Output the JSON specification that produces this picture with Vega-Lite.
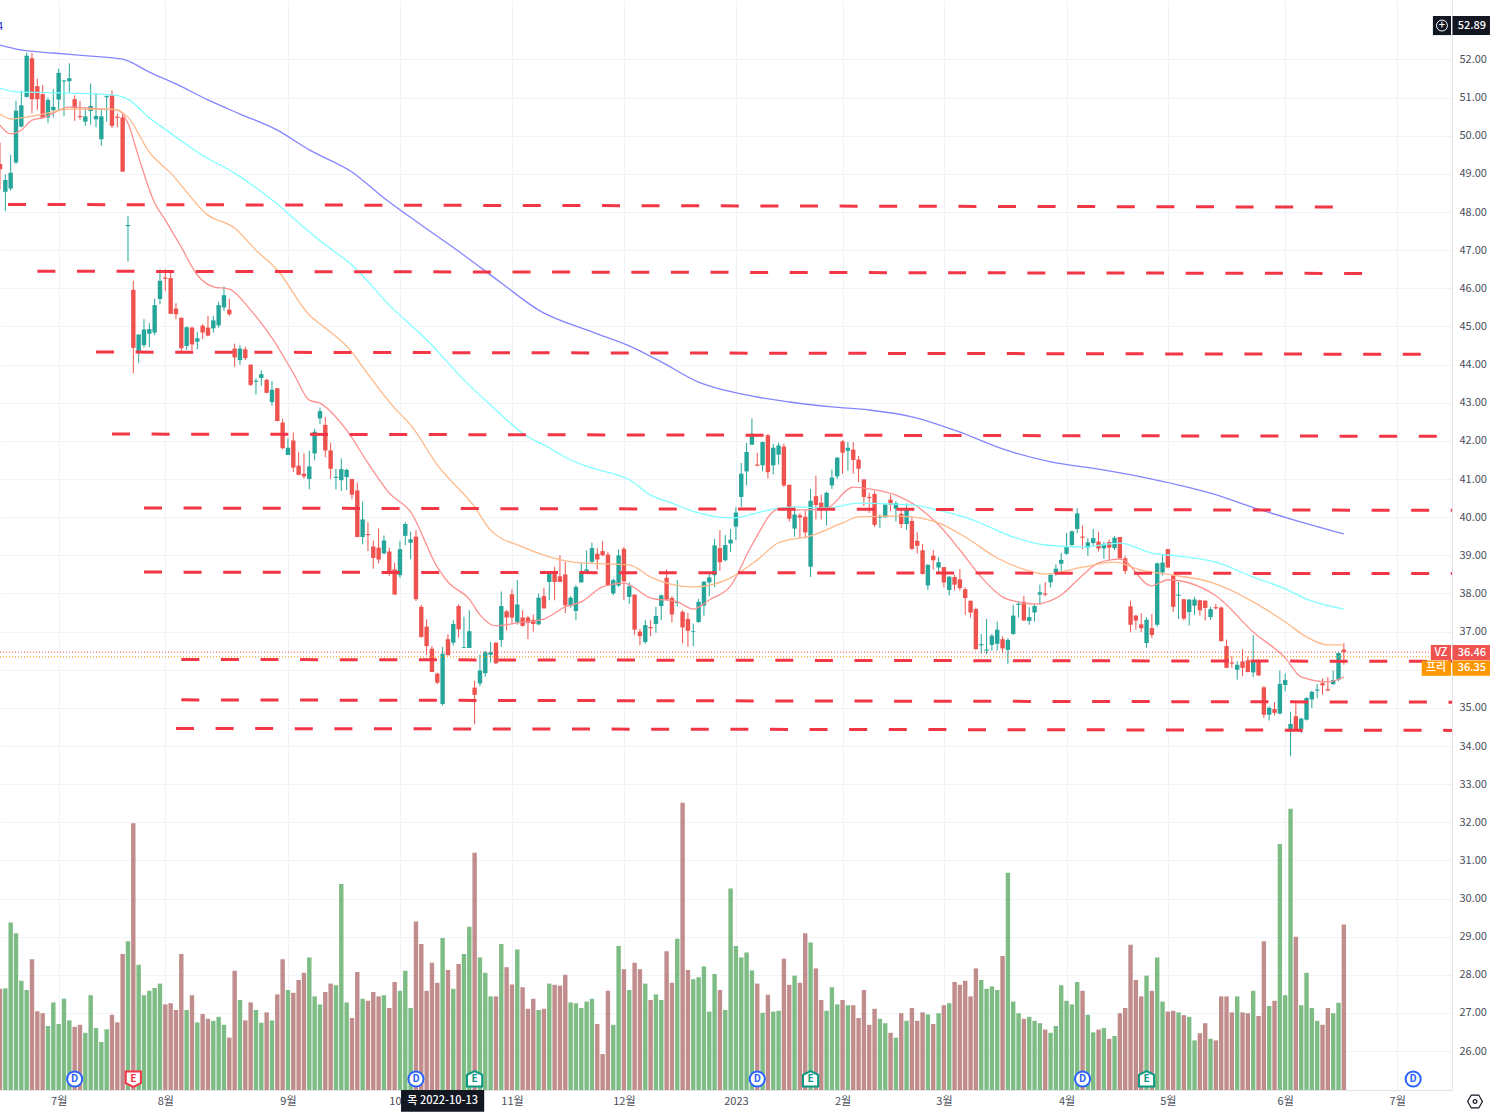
{"$schema":"https://vega.github.io/schema/vega-lite/v6.json","width":1452,"height":1090,"autosize":{"type":"none"},"padding":{"left":0,"top":0,"right":38,"bottom":25},"background":"white","config":{"view":{"stroke":null},"font":"Noto Sans CJK KR"},
"datasets":{"bars":[
{"i":-11,"o":49.26,"h":49.82,"l":48.6,"c":49.12,"v":25.3},{"i":-10,"o":48.53,"h":48.99,"l":48.03,"c":48.84,"v":25.4},{"i":-9,"o":48.62,"h":49.5,"l":48.56,"c":49.03,"v":41.9},{"i":-8,"o":49.3,"h":50.92,"l":49.26,"c":50.66,"v":39.2},{"i":-7,"o":50.24,"h":51.18,"l":50.22,"c":50.8,"v":27.3},{"i":-6,"o":51.02,"h":52.18,"l":51,"c":52.1,"v":25},{"i":-5,"o":52.03,"h":52.17,"l":50.59,"c":50.96,"v":32.7},{"i":-4,"o":51.3,"h":51.5,"l":50.68,"c":50.96,"v":19.7},{"i":-3,"o":51.09,"h":51.33,"l":50.46,"c":50.47,"v":19.2},{"i":-2,"o":50.48,"h":51,"l":50.33,"c":50.94,"v":16},{"i":-1,"o":50.67,"h":51.22,"l":50.48,"c":50.76,"v":21.9},
{"i":0,"o":50.95,"h":51.76,"l":50.65,"c":51.65,"v":16.5},{"i":1,"o":51.42,"h":51.46,"l":50.51,"c":51.45,"v":22.8},{"i":2,"o":51.43,"h":51.9,"l":51.14,"c":51.51,"v":17.4},{"i":3,"o":50.96,"h":51.06,"l":50.39,"c":50.72,"v":15.8},{"i":4,"o":50.52,"h":50.92,"l":50.42,"c":50.49,"v":16.3},{"i":5,"o":50.37,"h":50.74,"l":50.26,"c":50.51,"v":14.3},{"i":6,"o":50.65,"h":51.37,"l":50.29,"c":50.78,"v":23.7},{"i":7,"o":50.43,"h":51.12,"l":50.22,"c":50.52,"v":15.5},{"i":8,"o":49.91,"h":50.7,"l":49.74,"c":50.51,"v":12},{"i":9,"o":51.01,"h":51.06,"l":50.37,"c":51.04,"v":15.2},
{"i":10,"o":51.06,"h":51.19,"l":50.2,"c":50.26,"v":18.8},{"i":11,"o":50.5,"h":50.58,"l":50.22,"c":50.47,"v":16.9},{"i":12,"o":50.48,"h":50.56,"l":49.05,"c":49.06,"v":34},{"i":13,"o":47.63,"h":47.9,"l":46.7,"c":47.66,"v":37.2},{"i":14,"o":45.96,"h":46.2,"l":43.77,"c":44.44,"v":66.7},{"i":15,"o":44.36,"h":44.79,"l":44.05,"c":44.79,"v":31.3},{"i":16,"o":44.51,"h":45.19,"l":44.45,"c":44.92,"v":23.7},{"i":17,"o":44.81,"h":45.09,"l":44.46,"c":44.93,"v":24.8},{"i":18,"o":44.84,"h":45.73,"l":44.77,"c":45.56,"v":25.5},{"i":19,"o":45.72,"h":46.5,"l":45.58,"c":46.2,"v":26.6},
{"i":20,"o":46.28,"h":46.5,"l":45.93,"c":46.25,"v":21.4},{"i":21,"o":46.27,"h":46.48,"l":45.33,"c":45.33,"v":21.7},{"i":22,"o":45.47,"h":45.61,"l":45.19,"c":45.32,"v":20},{"i":23,"o":45.23,"h":45.23,"l":44.36,"c":44.43,"v":34},{"i":24,"o":44.49,"h":45,"l":44.39,"c":44.98,"v":20},{"i":25,"o":44.97,"h":45,"l":44.38,"c":44.53,"v":23.7},{"i":26,"o":44.6,"h":44.86,"l":44.4,"c":44.69,"v":16.9},{"i":27,"o":45.02,"h":45.06,"l":44.67,"c":44.84,"v":19},{"i":28,"o":44.97,"h":45.28,"l":44.74,"c":44.76,"v":17.8},{"i":29,"o":44.95,"h":45.28,"l":44.84,"c":45.16,"v":17.3},
{"i":30,"o":45.03,"h":45.65,"l":44.97,"c":45.56,"v":18.3},{"i":31,"o":45.5,"h":46.05,"l":45.41,"c":45.82,"v":16.3},{"i":32,"o":45.44,"h":45.73,"l":45.28,"c":45.32,"v":13.1},{"i":33,"o":44.42,"h":44.55,"l":43.94,"c":44.19,"v":29.8},{"i":34,"o":44.12,"h":44.51,"l":44,"c":44.42,"v":22.5},{"i":35,"o":44.4,"h":44.47,"l":44.12,"c":44.17,"v":17.4},{"i":36,"o":44,"h":44,"l":43.44,"c":43.47,"v":21.9},{"i":37,"o":43.55,"h":43.64,"l":43.22,"c":43.58,"v":20},{"i":38,"o":43.65,"h":43.85,"l":43.44,"c":43.75,"v":16.8},{"i":39,"o":43.6,"h":43.63,"l":43.25,"c":43.26,"v":19.4},
{"i":40,"o":43.02,"h":43.57,"l":42.92,"c":43.34,"v":17.4},{"i":41,"o":43.38,"h":43.38,"l":42.52,"c":42.52,"v":23.9},{"i":42,"o":42.48,"h":42.58,"l":41.78,"c":41.81,"v":32.7},{"i":43,"o":41.63,"h":42.06,"l":41.63,"c":41.82,"v":25},{"i":44,"o":42.01,"h":42.22,"l":41.19,"c":41.3,"v":24.3},{"i":45,"o":41.35,"h":41.71,"l":41.1,"c":41.11,"v":27.5},{"i":46,"o":41.14,"h":41.67,"l":41.01,"c":41.07,"v":29.3},{"i":47,"o":41,"h":41.74,"l":40.73,"c":41.33,"v":33.1},{"i":48,"o":41.67,"h":42.32,"l":41.49,"c":42.24,"v":23.4},{"i":49,"o":42.59,"h":42.87,"l":42.44,"c":42.78,"v":21.4},
{"i":50,"o":42.42,"h":42.63,"l":41.57,"c":41.75,"v":24.5},{"i":51,"o":41.75,"h":41.95,"l":41,"c":41.27,"v":26.6},{"i":52,"o":41.03,"h":41.27,"l":40.73,"c":41.06,"v":26.2},{"i":53,"o":40.97,"h":41.54,"l":40.69,"c":41.26,"v":51.5},{"i":54,"o":41.05,"h":41.27,"l":40.71,"c":41.24,"v":21.9},{"i":55,"o":41,"h":41,"l":40.47,"c":40.59,"v":18},{"i":56,"o":40.7,"h":40.91,"l":39.48,"c":39.48,"v":29.5},{"i":57,"o":39.48,"h":40.41,"l":39.29,"c":39.94,"v":22.8},{"i":58,"o":39.56,"h":39.87,"l":39.11,"c":39.53,"v":22.3},{"i":59,"o":39.23,"h":39.39,"l":38.65,"c":38.93,"v":24.5},
{"i":60,"o":39.2,"h":39.7,"l":38.79,"c":38.89,"v":23.4},{"i":61,"o":39.05,"h":39.52,"l":39.03,"c":39.39,"v":23.7},{"i":62,"o":39.1,"h":39.2,"l":38.46,"c":38.59,"v":20.5},{"i":63,"o":38.63,"h":38.81,"l":37.97,"c":37.97,"v":27},{"i":64,"o":38.48,"h":39.38,"l":38.41,"c":39.16,"v":24.8},{"i":65,"o":39.51,"h":39.87,"l":39.26,"c":39.82,"v":29.8},{"i":66,"o":39.33,"h":39.62,"l":38.9,"c":39.42,"v":20.5},{"i":67,"o":39.49,"h":39.66,"l":37.8,"c":37.85,"v":42.1},{"i":68,"o":37.65,"h":37.7,"l":36.84,"c":36.86,"v":36.5},{"i":69,"o":37.13,"h":37.32,"l":36.39,"c":36.62,"v":24.8},
{"i":70,"o":36.55,"h":36.62,"l":35.94,"c":35.94,"v":31.8},{"i":71,"o":35.9,"h":35.92,"l":35.63,"c":35.66,"v":26.8},{"i":72,"o":35.1,"h":36.6,"l":35.06,"c":36.42,"v":38},{"i":73,"o":36.8,"h":36.93,"l":36.38,"c":36.38,"v":30},{"i":74,"o":36.71,"h":37.3,"l":36.64,"c":37.2,"v":25.3},{"i":75,"o":37.67,"h":37.71,"l":36.84,"c":37.06,"v":31.5},{"i":76,"o":36.57,"h":37.39,"l":36.57,"c":36.59,"v":34},{"i":77,"o":36.57,"h":37.56,"l":36.57,"c":37.01,"v":40.8},{"i":78,"o":35.53,"h":35.71,"l":34.57,"c":35.34,"v":59.3},{"i":79,"o":35.64,"h":36.4,"l":35.57,"c":35.98,"v":33.1},
{"i":80,"o":35.91,"h":36.5,"l":35.82,"c":36.46,"v":29.3},{"i":81,"o":36.39,"h":36.73,"l":36.19,"c":36.46,"v":23.4},{"i":82,"o":36.71,"h":36.71,"l":36.15,"c":36.17,"v":23.4},{"i":83,"o":36.78,"h":38.05,"l":36.6,"c":37.67,"v":36.5},{"i":84,"o":37.53,"h":37.57,"l":37.03,"c":37.37,"v":30.7},{"i":85,"o":37.98,"h":38.11,"l":37.23,"c":37.37,"v":26.4},{"i":86,"o":37.25,"h":38.35,"l":37.18,"c":37.71,"v":35.1},{"i":87,"o":37.37,"h":37.56,"l":37.13,"c":37.15,"v":25.7},{"i":88,"o":37.37,"h":37.41,"l":36.8,"c":37.23,"v":20.3},{"i":89,"o":37.31,"h":37.45,"l":37,"c":37.2,"v":22.8},
{"i":90,"o":37.19,"h":38,"l":37.17,"c":37.89,"v":20},{"i":91,"o":37.93,"h":38.15,"l":37.6,"c":37.61,"v":20.3},{"i":92,"o":38.3,"h":38.59,"l":37.82,"c":38.55,"v":26.6},{"i":93,"o":38.59,"h":38.7,"l":37.82,"c":38.3,"v":26.3},{"i":94,"o":38.45,"h":39,"l":38.3,"c":38.3,"v":26.1},{"i":95,"o":38.5,"h":38.83,"l":37.48,"c":37.69,"v":28.8},{"i":96,"o":37.67,"h":37.93,"l":37.63,"c":37.89,"v":21.9},{"i":97,"o":37.54,"h":38.22,"l":37.3,"c":38.17,"v":21.7},{"i":98,"o":38.29,"h":38.8,"l":38.28,"c":38.57,"v":20.5},{"i":99,"o":38.57,"h":39.13,"l":38.54,"c":38.63,"v":22.1},
{"i":100,"o":38.83,"h":39.33,"l":38.8,"c":39.19,"v":22.8},{"i":101,"o":39.04,"h":39.19,"l":38.63,"c":38.89,"v":16.5},{"i":102,"o":39.11,"h":39.37,"l":38.98,"c":39,"v":9},{"i":103,"o":39.02,"h":39.09,"l":38.19,"c":38.21,"v":24.8},{"i":104,"o":38,"h":38.39,"l":37.95,"c":38.35,"v":16.3},{"i":105,"o":38.21,"h":39.15,"l":38.17,"c":39,"v":36},{"i":106,"o":39.17,"h":39.22,"l":37.82,"c":38.32,"v":30.2},{"i":107,"o":37.91,"h":38.29,"l":37.73,"c":38.19,"v":25},{"i":108,"o":37.97,"h":37.97,"l":36.92,"c":37.05,"v":31.8},{"i":109,"o":37,"h":37.07,"l":36.64,"c":36.88,"v":30.2},
{"i":110,"o":36.73,"h":37.31,"l":36.68,"c":37.17,"v":26.6},{"i":111,"o":37.12,"h":37.31,"l":36.88,"c":37.09,"v":22.5},{"i":112,"o":37.2,"h":37.65,"l":36.97,"c":37.41,"v":23.9},{"i":113,"o":37.67,"h":37.97,"l":37.3,"c":37.95,"v":22.5},{"i":114,"o":38.41,"h":38.63,"l":37.82,"c":37.84,"v":34.7},{"i":115,"o":37.88,"h":37.93,"l":37.24,"c":37.45,"v":26.8},{"i":116,"o":37.75,"h":38.35,"l":37.66,"c":37.78,"v":37.8},{"i":117,"o":37.52,"h":37.56,"l":36.69,"c":37.11,"v":71.8},{"i":118,"o":37.33,"h":37.49,"l":36.6,"c":37.02,"v":30},{"i":119,"o":36.99,"h":37.21,"l":36.62,"c":37.01,"v":27.7},
{"i":120,"o":37.25,"h":37.86,"l":37.23,"c":37.78,"v":28.2},{"i":121,"o":37.68,"h":38.32,"l":37.42,"c":38.31,"v":30.9},{"i":122,"o":38.29,"h":38.52,"l":37.93,"c":38.42,"v":19.6},{"i":123,"o":38.48,"h":39.43,"l":38.17,"c":39.26,"v":29},{"i":124,"o":39.19,"h":39.66,"l":38.59,"c":38.82,"v":25},{"i":125,"o":38.87,"h":39.53,"l":38.84,"c":39.27,"v":20},{"i":126,"o":39.31,"h":39.69,"l":39.09,"c":39.41,"v":50.4},{"i":127,"o":39.75,"h":40.26,"l":39.4,"c":40.12,"v":36},{"i":128,"o":40.53,"h":41.42,"l":40.27,"c":41.14,"v":33.1},{"i":129,"o":41.2,"h":41.95,"l":40.83,"c":41.71,"v":34.4},
{"i":130,"o":41.9,"h":42.59,"l":41.9,"c":42.19,"v":29.9},{"i":131,"o":41.38,"h":41.69,"l":41.34,"c":41.35,"v":26.6},{"i":132,"o":41.36,"h":41.98,"l":41.2,"c":41.97,"v":19.3},{"i":133,"o":42.15,"h":42.18,"l":41.01,"c":41.18,"v":23.8},{"i":134,"o":41.36,"h":41.92,"l":41.12,"c":41.82,"v":19.6},{"i":135,"o":41.64,"h":41.95,"l":41.38,"c":41.88,"v":19.8},{"i":136,"o":41.85,"h":41.93,"l":40.79,"c":40.83,"v":32.8},{"i":137,"o":40.85,"h":40.85,"l":39.88,"c":39.96,"v":26.3},{"i":138,"o":39.7,"h":40.29,"l":39.49,"c":40.07,"v":28.6},{"i":139,"o":40.05,"h":40.11,"l":39.45,"c":39.99,"v":26.8},
{"i":140,"o":40.01,"h":40.18,"l":39.44,"c":39.6,"v":39.2},{"i":141,"o":38.7,"h":40.74,"l":38.43,"c":40.43,"v":36.9},{"i":142,"o":40.55,"h":41.09,"l":39.94,"c":40.32,"v":30.4},{"i":143,"o":40.38,"h":40.59,"l":39.94,"c":40.23,"v":22.5},{"i":144,"o":40.22,"h":40.67,"l":39.78,"c":40.64,"v":19.8},{"i":145,"o":40.83,"h":41.25,"l":40.74,"c":41.04,"v":25.7},{"i":146,"o":41.07,"h":41.58,"l":41,"c":41.56,"v":21.4},{"i":147,"o":41.99,"h":42.02,"l":41.14,"c":41.69,"v":22.5},{"i":148,"o":41.74,"h":41.97,"l":41.22,"c":41.82,"v":21.2},{"i":149,"o":41.77,"h":41.97,"l":41.14,"c":41.5,"v":21.2},
{"i":150,"o":41.51,"h":41.6,"l":40.92,"c":41.27,"v":18},{"i":151,"o":40.99,"h":40.99,"l":40.29,"c":40.53,"v":25},{"i":152,"o":40.53,"h":40.64,"l":40.11,"c":40.5,"v":16.3},{"i":153,"o":40.61,"h":40.68,"l":39.74,"c":39.8,"v":20.3},{"i":154,"o":39.99,"h":40.07,"l":39.72,"c":40.02,"v":17.8},{"i":155,"o":40,"h":40.36,"l":39.98,"c":40.33,"v":16.7},{"i":156,"o":40.46,"h":40.59,"l":40.16,"c":40.32,"v":14.3},{"i":157,"o":40.22,"h":40.42,"l":39.89,"c":40.37,"v":13.1},{"i":158,"o":40.09,"h":40.24,"l":39.71,"c":39.82,"v":19.2},{"i":159,"o":39.82,"h":40.36,"l":39.67,"c":40.22,"v":17.3},
{"i":160,"o":39.9,"h":39.99,"l":39.14,"c":39.17,"v":20.5},{"i":161,"o":39.38,"h":39.6,"l":39.04,"c":39.25,"v":17.3},{"i":162,"o":39.13,"h":39.3,"l":38.5,"c":38.51,"v":19.4},{"i":163,"o":38.21,"h":38.77,"l":38.09,"c":38.75,"v":18.9},{"i":164,"o":38.99,"h":39.14,"l":38.62,"c":38.87,"v":16.5},{"i":165,"o":38.68,"h":38.95,"l":38.55,"c":38.82,"v":19.2},{"i":166,"o":38.69,"h":38.69,"l":38.16,"c":38.29,"v":21.2},{"i":167,"o":38.09,"h":38.46,"l":37.95,"c":38.44,"v":21.7},{"i":168,"o":38.43,"h":38.49,"l":38.08,"c":38.23,"v":27},{"i":169,"o":38.37,"h":38.64,"l":38.07,"c":38.14,"v":26.3},
{"i":170,"o":38.11,"h":38.16,"l":37.44,"c":37.88,"v":27.3},{"i":171,"o":37.81,"h":37.81,"l":37.37,"c":37.5,"v":23.4},{"i":172,"o":37.59,"h":37.63,"l":36.52,"c":36.54,"v":30.4},{"i":173,"o":36.64,"h":36.94,"l":36.42,"c":36.67,"v":27.5},{"i":174,"o":36.5,"h":37.33,"l":36.41,"c":36.53,"v":25.3},{"i":175,"o":36.65,"h":36.94,"l":36.5,"c":36.89,"v":25.9},{"i":176,"o":36.68,"h":37.26,"l":36.5,"c":37.05,"v":25},{"i":177,"o":36.8,"h":36.87,"l":36.44,"c":36.56,"v":33.5},{"i":178,"o":36.52,"h":36.83,"l":36.15,"c":36.78,"v":54.3},{"i":179,"o":36.94,"h":37.7,"l":36.91,"c":37.42,"v":22.1},
{"i":180,"o":37.7,"h":37.79,"l":37.37,"c":37.73,"v":19.2},{"i":181,"o":37.78,"h":37.94,"l":37.28,"c":37.29,"v":17.8},{"i":182,"o":37.28,"h":37.64,"l":37.18,"c":37.38,"v":18.3},{"i":183,"o":37.5,"h":37.74,"l":37.26,"c":37.67,"v":17.3},{"i":184,"o":37.97,"h":38.23,"l":37.71,"c":38.03,"v":16.7},{"i":185,"o":38,"h":38.3,"l":37.92,"c":37.97,"v":15.1},{"i":186,"o":38.29,"h":38.51,"l":38.16,"c":38.49,"v":14.3},{"i":187,"o":38.53,"h":38.76,"l":38.47,"c":38.65,"v":16},{"i":188,"o":38.78,"h":39.06,"l":38.58,"c":38.88,"v":26.2},{"i":189,"o":39.04,"h":39.58,"l":39.01,"c":39.23,"v":22.3},
{"i":190,"o":39.27,"h":39.65,"l":39.25,"c":39.63,"v":21.4},{"i":191,"o":39.69,"h":40.24,"l":39.58,"c":40.1,"v":27},{"i":192,"o":39.49,"h":39.78,"l":39.16,"c":39.46,"v":24.8},{"i":193,"o":39.2,"h":39.45,"l":38.99,"c":39.34,"v":18.8},{"i":194,"o":39.32,"h":39.69,"l":39.25,"c":39.45,"v":14.4},{"i":195,"o":39.36,"h":39.62,"l":39.1,"c":39.18,"v":15.1},{"i":196,"o":39.18,"h":39.35,"l":38.91,"c":39.3,"v":15.5},{"i":197,"o":39.35,"h":39.41,"l":38.88,"c":39.2,"v":12.8},{"i":198,"o":39.19,"h":39.51,"l":39.14,"c":39.46,"v":13.5},{"i":199,"o":39.48,"h":39.48,"l":38.9,"c":38.92,"v":19.2},
{"i":200,"o":38.92,"h":38.99,"l":38.51,"c":38.59,"v":20.5},{"i":201,"o":37.66,"h":37.81,"l":36.98,"c":37.18,"v":36.3},{"i":202,"o":37.42,"h":37.44,"l":37.05,"c":37.29,"v":27.5},{"i":203,"o":37.19,"h":37.48,"l":36.98,"c":37.09,"v":23.4},{"i":204,"o":36.7,"h":37.38,"l":36.58,"c":37.31,"v":28.6},{"i":205,"o":37.09,"h":37.46,"l":36.83,"c":36.91,"v":24.8},{"i":206,"o":37.18,"h":38.81,"l":37.13,"c":38.79,"v":33.1},{"i":207,"o":38.55,"h":39.01,"l":38.47,"c":38.81,"v":22.1},{"i":208,"o":39.16,"h":39.17,"l":38.67,"c":38.68,"v":19.6},{"i":209,"o":38.47,"h":38.48,"l":37.51,"c":37.65,"v":19.8},
{"i":210,"o":37.94,"h":38.3,"l":37.33,"c":37.97,"v":19.4},{"i":211,"o":37.85,"h":37.85,"l":37.29,"c":37.34,"v":18.7},{"i":212,"o":37.51,"h":37.85,"l":37.16,"c":37.84,"v":18.3},{"i":213,"o":37.68,"h":37.91,"l":37.44,"c":37.84,"v":12.4},{"i":214,"o":37.82,"h":37.84,"l":37.42,"c":37.56,"v":14.2},{"i":215,"o":37.81,"h":37.82,"l":37.29,"c":37.62,"v":16.7},{"i":216,"o":37.38,"h":37.65,"l":37.31,"c":37.59,"v":12.8},{"i":217,"o":37.64,"h":37.73,"l":37.58,"c":37.61,"v":12.4},{"i":218,"o":37.63,"h":37.66,"l":36.74,"c":36.75,"v":23.4},{"i":219,"o":36.62,"h":36.79,"l":36.05,"c":36.05,"v":23.4},
{"i":220,"o":36.19,"h":36.35,"l":36.05,"c":36.16,"v":19.4},{"i":221,"o":36,"h":36.22,"l":35.74,"c":36.13,"v":23.4},{"i":222,"o":36.22,"h":36.53,"l":35.83,"c":36.05,"v":19.4},{"i":223,"o":36.25,"h":36.35,"l":35.93,"c":35.94,"v":19.2},{"i":224,"o":35.93,"h":36.91,"l":35.81,"c":36.25,"v":24.8},{"i":225,"o":36.25,"h":36.27,"l":35.84,"c":35.85,"v":18.5},{"i":226,"o":35.54,"h":35.57,"l":34.73,"c":34.82,"v":37.2},{"i":227,"o":34.82,"h":35.04,"l":34.67,"c":35,"v":21},{"i":228,"o":34.97,"h":35.15,"l":34.8,"c":34.87,"v":22.3},{"i":229,"o":34.85,"h":35.98,"l":34.83,"c":35.63,"v":61.5},
{"i":230,"o":35.6,"h":35.9,"l":35.43,"c":35.73,"v":23.7},{"i":231,"o":34.4,"h":34.9,"l":33.73,"c":34.58,"v":70.3},{"i":232,"o":34.78,"h":35.15,"l":34.43,"c":34.43,"v":38.3},{"i":233,"o":34.45,"h":34.74,"l":34.34,"c":34.72,"v":21.2},{"i":234,"o":34.69,"h":35.28,"l":34.67,"c":35.26,"v":29.3},{"i":235,"o":35.22,"h":35.45,"l":34.99,"c":35.42,"v":20.5},{"i":236,"o":35.45,"h":35.63,"l":35.26,"c":35.48,"v":17.3},{"i":237,"o":35.65,"h":35.77,"l":35.35,"c":35.59,"v":16.3},{"i":238,"o":35.49,"h":35.81,"l":35.43,"c":35.46,"v":20.5},{"i":239,"o":35.62,"h":35.98,"l":35.61,"c":35.73,"v":19.2},{"i":240,"o":35.74,"h":36.46,"l":35.7,"c":36.44,"v":21.8},{"i":241,"o":36.53,"h":36.7,"l":36.13,"c":36.46,"v":41.4}
],
"mas":[
{"m":"a","i":-11,"p":50.28},{"m":"a","i":-9,"p":50.05},{"m":"a","i":-7,"p":50.15},{"m":"a","i":-5,"p":50.41},{"m":"a","i":-3,"p":50.47},{"m":"a","i":2,"p":50.75},{"m":"a","i":8,"p":50.7},{"m":"a","i":11,"p":50.68},{"m":"a","i":13,"p":50.33},{"m":"a","i":15,"p":49.44},{"m":"a","i":18,"p":48.24},{"m":"a","i":20,"p":47.79},{"m":"a","i":23,"p":47.08},{"m":"a","i":26,"p":46.35},{"m":"a","i":29,"p":46.04},{"m":"a","i":32,"p":45.98},{"m":"a","i":36,"p":45.43},{"m":"a","i":40,"p":44.7},{"m":"a","i":44,"p":43.78},{"m":"a","i":47,"p":43.07},{"m":"a","i":49,"p":42.99},{"m":"a","i":54,"p":42.28},{"m":"a","i":58,"p":41.42},{"m":"a","i":62,"p":40.63},{"m":"a","i":66,"p":40.14},{"m":"a","i":71,"p":38.69},{"m":"a","i":73,"p":38.3},{"m":"a","i":77,"p":37.85},{"m":"a","i":79,"p":37.44},{"m":"a","i":82,"p":37.15},{"m":"a","i":86,"p":37.23},{"m":"a","i":91,"p":37.33},{"m":"a","i":95,"p":37.65},{"m":"a","i":98,"p":37.78},{"m":"a","i":102,"p":38.17},{"m":"a","i":106,"p":38.27},{"m":"a","i":111,"p":37.88},{"m":"a","i":116,"p":37.78},{"m":"a","i":119,"p":37.59},{"m":"a","i":122,"p":37.83},{"m":"a","i":126,"p":38.2},{"m":"a","i":130,"p":39.27},{"m":"a","i":135,"p":40.21},{"m":"a","i":139,"p":40.19},{"m":"a","i":144,"p":40.24},{"m":"a","i":149,"p":40.79},{"m":"a","i":152,"p":40.74},{"m":"a","i":157,"p":40.58},{"m":"a","i":160,"p":40.37},{"m":"a","i":165,"p":39.8},{"m":"a","i":169,"p":39.14},{"m":"a","i":173,"p":38.43},{"m":"a","i":177,"p":37.91},{"m":"a","i":181,"p":37.75},{"m":"a","i":183,"p":37.72},{"m":"a","i":188,"p":37.96},{"m":"a","i":192,"p":38.48},{"m":"a","i":195,"p":38.8},{"m":"a","i":199,"p":38.9},{"m":"a","i":205,"p":38.2},{"m":"a","i":208,"p":38.36},{"m":"a","i":217,"p":37.94},{"m":"a","i":224,"p":36.99},{"m":"a","i":230,"p":36.31},{"m":"a","i":233,"p":35.81},{"m":"a","i":238,"p":35.68},{"m":"a","i":241,"p":35.81},
{"m":"b","i":-11,"p":50.57},{"m":"b","i":-9,"p":50.44},{"m":"b","i":-6,"p":50.49},{"m":"b","i":-3,"p":50.57},{"m":"b","i":2,"p":50.7},{"m":"b","i":10,"p":50.7},{"m":"b","i":13,"p":50.49},{"m":"b","i":17,"p":49.57},{"m":"b","i":21,"p":49.02},{"m":"b","i":28,"p":47.92},{"m":"b","i":33,"p":47.58},{"m":"b","i":37,"p":47},{"m":"b","i":41,"p":46.48},{"m":"b","i":47,"p":45.3},{"m":"b","i":50,"p":44.96},{"m":"b","i":55,"p":44.33},{"m":"b","i":57,"p":43.94},{"m":"b","i":63,"p":42.86},{"m":"b","i":66,"p":42.42},{"m":"b","i":71,"p":41.37},{"m":"b","i":78,"p":40.27},{"m":"b","i":81,"p":39.66},{"m":"b","i":87,"p":39.22},{"m":"b","i":92,"p":38.96},{"m":"b","i":98,"p":38.8},{"m":"b","i":107,"p":38.75},{"m":"b","i":111,"p":38.43},{"m":"b","i":119,"p":38.17},{"m":"b","i":126,"p":38.41},{"m":"b","i":131,"p":38.88},{"m":"b","i":135,"p":39.33},{"m":"b","i":141,"p":39.51},{"m":"b","i":147,"p":39.85},{"m":"b","i":150,"p":40.01},{"m":"b","i":157,"p":40.03},{"m":"b","i":160,"p":40.01},{"m":"b","i":165,"p":39.85},{"m":"b","i":170,"p":39.48},{"m":"b","i":176,"p":38.93},{"m":"b","i":182,"p":38.59},{"m":"b","i":185,"p":38.51},{"m":"b","i":192,"p":38.69},{"m":"b","i":198,"p":38.82},{"m":"b","i":203,"p":38.61},{"m":"b","i":209,"p":38.48},{"m":"b","i":216,"p":38.3},{"m":"b","i":225,"p":37.7},{"m":"b","i":230,"p":37.25},{"m":"b","i":234,"p":36.86},{"m":"b","i":238,"p":36.65},{"m":"b","i":241,"p":36.65},
{"m":"c","i":-11,"p":51.25},{"m":"c","i":-8,"p":51.15},{"m":"c","i":2,"p":51.12},{"m":"c","i":10,"p":51.07},{"m":"c","i":13,"p":50.96},{"m":"c","i":17,"p":50.47},{"m":"c","i":21,"p":50.07},{"m":"c","i":26,"p":49.57},{"m":"c","i":33,"p":49.02},{"m":"c","i":40,"p":48.32},{"m":"c","i":47,"p":47.48},{"m":"c","i":50,"p":47.14},{"m":"c","i":55,"p":46.61},{"m":"c","i":62,"p":45.56},{"m":"c","i":69,"p":44.65},{"m":"c","i":76,"p":43.6},{"m":"c","i":82,"p":42.81},{"m":"c","i":87,"p":42.2},{"m":"c","i":92,"p":41.82},{"m":"c","i":96,"p":41.5},{"m":"c","i":100,"p":41.29},{"m":"c","i":107,"p":40.98},{"m":"c","i":111,"p":40.58},{"m":"c","i":115,"p":40.37},{"m":"c","i":120,"p":40.11},{"m":"c","i":126,"p":39.98},{"m":"c","i":134,"p":40.21},{"m":"c","i":138,"p":40.27},{"m":"c","i":144,"p":40.24},{"m":"c","i":150,"p":40.37},{"m":"c","i":157,"p":40.34},{"m":"c","i":160,"p":40.32},{"m":"c","i":167,"p":40.11},{"m":"c","i":171,"p":39.95},{"m":"c","i":179,"p":39.48},{"m":"c","i":185,"p":39.27},{"m":"c","i":192,"p":39.22},{"m":"c","i":199,"p":39.32},{"m":"c","i":205,"p":39.06},{"m":"c","i":210,"p":38.98},{"m":"c","i":217,"p":38.82},{"m":"c","i":224,"p":38.43},{"m":"c","i":230,"p":38.12},{"m":"c","i":234,"p":37.85},{"m":"c","i":241,"p":37.59},
{"m":"d","i":-11,"p":52.38},{"m":"d","i":-7,"p":52.25},{"m":"d","i":-1,"p":52.17},{"m":"d","i":6,"p":52.09},{"m":"d","i":12,"p":52.01},{"m":"d","i":17,"p":51.67},{"m":"d","i":22,"p":51.36},{"m":"d","i":28,"p":50.94},{"m":"d","i":34,"p":50.57},{"m":"d","i":41,"p":50.15},{"m":"d","i":47,"p":49.63},{"m":"d","i":55,"p":49.05},{"m":"d","i":61,"p":48.37},{"m":"d","i":68,"p":47.66},{"m":"d","i":76,"p":46.87},{"m":"d","i":83,"p":46.14},{"m":"d","i":90,"p":45.43},{"m":"d","i":100,"p":44.86},{"m":"d","i":107,"p":44.49},{"m":"d","i":113,"p":44.07},{"m":"d","i":120,"p":43.54},{"m":"d","i":128,"p":43.23},{"m":"d","i":137,"p":43.02},{"m":"d","i":145,"p":42.89},{"m":"d","i":152,"p":42.81},{"m":"d","i":160,"p":42.63},{"m":"d","i":169,"p":42.23},{"m":"d","i":177,"p":41.79},{"m":"d","i":186,"p":41.45},{"m":"d","i":195,"p":41.26},{"m":"d","i":205,"p":41},{"m":"d","i":216,"p":40.63},{"m":"d","i":225,"p":40.21},{"m":"d","i":233,"p":39.87},{"m":"d","i":241,"p":39.56}
],
"levels":[
{"id":1,"i":-9.5,"p":48.2},{"id":1,"i":239.7,"p":48.13},{"id":2,"i":-4,"p":46.45},{"id":2,"i":244.6,"p":46.39},{"id":3,"i":7,"p":44.33},{"id":3,"i":255.6,"p":44.27},{"id":4,"i":10,"p":42.18},{"id":4,"i":258.6,"p":42.12},{"id":5,"i":16,"p":40.24},{"id":5,"i":261.28,"p":40.18},{"id":6,"i":16,"p":38.56},{"id":6,"i":261.28,"p":38.52},{"id":7,"i":23,"p":36.27},{"id":7,"i":261.28,"p":36.22},{"id":8,"i":23,"p":35.21},{"id":8,"i":261.28,"p":35.15},{"id":9,"i":22,"p":34.46},{"id":9,"i":261.28,"p":34.41}
]},
"encoding":{"x":{"field":"i","type":"quantitative","scale":{"domain":[-11,261.28],"nice":false,"zero":false,"padding":0},"axis":{"title":null,"values":[0,20,43,64,85,106,127,147,166,189,208,230,251],"labelExpr":"{'0':'7월','20':'8월','43':'9월','64':'10월','85':'11월','106':'12월','127':'2023','147':'2월','166':'3월','189':'4월','208':'5월','230':'6월','251':'7월'}[''+datum.value]","grid":true,"gridColor":"#f0f3fa","gridWidth":1,"ticks":false,"domainColor":"#e0e3eb","labelColor":"#4a4e5a","labelFontSize":11,"labelPadding":5,"labelFlush":false,"labelOverlap":false}}},
"resolve":{"scale":{"y":"independent"},"axis":{"y":"independent"}},
"layer":[
{"data":{"name":"bars"},"mark":{"type":"bar","size":4.4,"orient":"vertical"},"encoding":{"y":{"field":"v","type":"quantitative","scale":{"domain":[0,272.5],"nice":false},"axis":null},"color":{"condition":{"test":"datum.c>=datum.o","value":"#7DBC85"},"value":"#C08C8C"}}},
{"layer":[
{"data":{"name":"bars"},"mark":{"type":"rule","strokeWidth":1},"encoding":{"y":{"field":"l","type":"quantitative","scale":{"domain":[24.981,53.56],"nice":false,"zero":false},"axis":{"orient":"right","title":null,"values":[26,27,28,29,30,31,32,33,34,35,36,37,38,39,40,41,42,43,44,45,46,47,48,49,50,51,52],"labelExpr":"datum.value==36?'':format(datum.value,'.2f')","grid":true,"gridColor":"#f0f3fa","ticks":false,"domainColor":"#e0e3eb","labelColor":"#4a4e5a","labelFontSize":11,"labelPadding":7,"labelOverlap":false,"labelFlush":false}},"y2":{"field":"h"},"color":{"condition":{"test":"datum.c>=datum.o","value":"#26A69A"},"value":"#EF5350"}}},
{"data":{"name":"bars"},"mark":{"type":"bar","size":4.4},"encoding":{"y":{"field":"o","type":"quantitative"},"y2":{"field":"c"},"color":{"condition":{"test":"datum.c>=datum.o","value":"#26A69A"},"value":"#EF5350"}}},
{"data":{"name":"mas"},"mark":{"type":"line","strokeWidth":1.3,"interpolate":"monotone"},"encoding":{"y":{"field":"p","type":"quantitative"},"detail":{"field":"m"},"color":{"field":"m","type":"nominal","legend":null,"scale":{"domain":["a","b","c","d"],"range":["#FF9090","#FFB987","#80FFFF","#8585FF"]}}}},
{"data":{"name":"levels"},"mark":{"type":"line","stroke":"#F23645","strokeWidth":3,"strokeDash":[18,21.6]},"encoding":{"y":{"field":"p","type":"quantitative"},"detail":{"field":"id"}}},
{"data":{"values":[{"i":-11,"p":36.46},{"i":261.28,"p":36.46}]},"mark":{"type":"line","stroke":"#EF5350","strokeWidth":1,"strokeDash":[1,2]},"encoding":{"y":{"field":"p","type":"quantitative"}}},
{"data":{"values":[{"i":-11,"p":36.34},{"i":261.28,"p":36.34}]},"mark":{"type":"line","stroke":"#FF9800","strokeWidth":1,"strokeDash":[1,2]},"encoding":{"y":{"field":"p","type":"quantitative"}}},
{"data":{"values":[{"i":3,"p":25.27},{"i":67,"p":25.27},{"i":131,"p":25.27},{"i":192,"p":25.27},{"i":254,"p":25.27}]},"layer":[
 {"mark":{"type":"point","shape":"circle","size":230,"filled":true,"fill":"white","stroke":"#2962FF","strokeWidth":2,"opacity":1},"encoding":{"y":{"field":"p","type":"quantitative"}}},
 {"mark":{"type":"text","text":"D","fontSize":10,"fontWeight":"bold","color":"#2962FF"},"encoding":{"y":{"field":"p","type":"quantitative"}}}]},
{"data":{"values":[{"i":14,"p":25.27}]},"layer":[
 {"mark":{"type":"point","shape":"M-1,-1 L1,-1 L1,0.55 L0,1.05 L-1,0.55 Z","size":230,"filled":true,"fill":"white","stroke":"#F23645","strokeWidth":2,"opacity":1},"encoding":{"y":{"field":"p","type":"quantitative"}}},
 {"mark":{"type":"text","text":"E","fontSize":10,"fontWeight":"bold","color":"#F23645"},"encoding":{"y":{"field":"p","type":"quantitative"}}}]},
{"data":{"values":[{"i":78,"p":25.27},{"i":141,"p":25.27},{"i":204,"p":25.27}]},"layer":[
 {"mark":{"type":"point","shape":"M-1,1 L1,1 L1,-0.55 L0,-1.05 L-1,-0.55 Z","size":230,"filled":true,"fill":"white","stroke":"#089981","strokeWidth":2,"opacity":1},"encoding":{"y":{"field":"p","type":"quantitative"}}},
 {"mark":{"type":"text","text":"E","fontSize":10,"fontWeight":"bold","color":"#089981"},"encoding":{"y":{"field":"p","type":"quantitative"}}}]},
{"data":{"values":[{"i":257.7,"i2":261.1,"p":53.14,"p2":52.64},{"i":261.37,"i2":268.4,"p":53.14,"p2":52.64},{"i":64.2,"i2":79.8,"p":24.98,"p2":24.41}]},"mark":{"type":"rect","fill":"#131722"},"encoding":{"x":{"field":"i","type":"quantitative"},"x2":{"field":"i2"},"y":{"field":"p","type":"quantitative"},"y2":{"field":"p2"}}},
{"data":{"values":[{"i":257.3,"i2":261.1,"p":36.65,"p2":36.25},{"i":261.37,"i2":268.4,"p":36.65,"p2":36.25}]},"mark":{"type":"rect","fill":"#EF5350"},"encoding":{"x":{"field":"i","type":"quantitative"},"x2":{"field":"i2"},"y":{"field":"p","type":"quantitative"},"y2":{"field":"p2"}}},
{"data":{"values":[{"i":255.6,"i2":261.1,"p":36.24,"p2":35.84},{"i":261.37,"i2":268.4,"p":36.24,"p2":35.84}]},"mark":{"type":"rect","fill":"#FF9800"},"encoding":{"x":{"field":"i","type":"quantitative"},"x2":{"field":"i2"},"y":{"field":"p","type":"quantitative"},"y2":{"field":"p2"}}},
{"data":{"values":[{"i":259.4,"p":52.89}]},"mark":{"type":"point","shape":"circle","size":120,"stroke":"white","strokeWidth":1,"opacity":1},"encoding":{"y":{"field":"p","type":"quantitative"}}},
{"data":{"values":[{"i":265,"p":52.89,"t":"52.89"},{"i":259.4,"p":52.89,"t":"+"},{"i":265,"p":36.45,"t":"36.46"},{"i":259.2,"p":36.45,"t":"VZ"},{"i":265,"p":36.04,"t":"36.35"},{"i":258.3,"p":36.04,"t":"프리"},{"i":72,"p":24.68,"t":"목 2022-10-13"}]},"mark":{"type":"text","color":"white","fontSize":11,"fontWeight":500},"encoding":{"y":{"field":"p","type":"quantitative"},"text":{"field":"t"}}},
{"data":{"values":[{"i":-11,"p":52.85,"t":"4"}]},"mark":{"type":"text","color":"#2A2AD0","fontSize":11},"encoding":{"y":{"field":"p","type":"quantitative"},"text":{"field":"t"}}},
{"data":{"values":[{"i":265.6,"p":24.68}]},"layer":[
 {"mark":{"type":"point","shape":"M-0.5,-0.87 L0.5,-0.87 L1,0 L0.5,0.87 L-0.5,0.87 L-1,0 Z","size":220,"stroke":"#131722","strokeWidth":1.2,"opacity":1},"encoding":{"y":{"field":"p","type":"quantitative"}}},
 {"mark":{"type":"point","shape":"circle","size":14,"stroke":"#131722","strokeWidth":1.2,"opacity":1},"encoding":{"y":{"field":"p","type":"quantitative"}}}]}
]}
]}
